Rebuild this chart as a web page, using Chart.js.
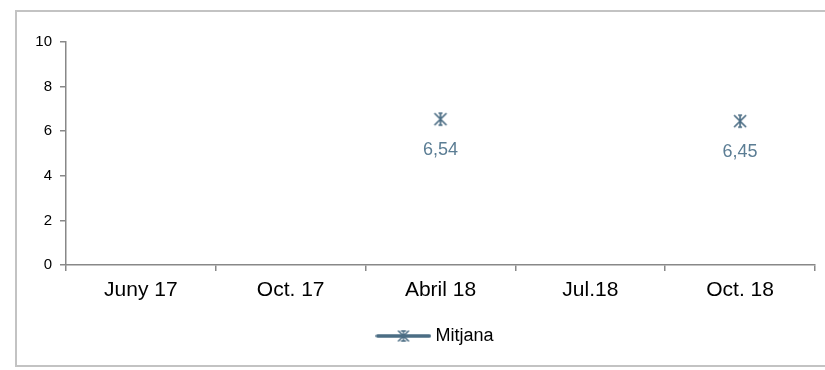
<!DOCTYPE html>
<html>
<head>
<meta charset="utf-8">
<script src="https://cdn.jsdelivr.net/npm/chart.js@4/dist/chart.umd.min.js"></script>
<style>
  html, body { margin: 0; padding: 0; background: #fff; }
  #wrap { position: relative; width: 825px; height: 370px; }
</style>
</head>
<body>
<div id="wrap"><canvas id="chart" width="825" height="370"></canvas></div>
<script>
// data
const categories = ['Juny 17', 'Oct. 17', 'Abril 18', 'Jul.18', 'Oct. 18'];
const mitjana = [null, null, 6.54, null, 6.45];
const yTicks = [0, 2, 4, 6, 8, 10];
const seriesName = 'Mitjana';

const SERIES_COLOR = '#4b6d84';
const LABEL_COLOR = '#5b7d94';
const FONT = '"Liberation Sans", Arial, sans-serif';

// excel-like star marker
function drawStar(ctx, cx, cy, r) {
    ctx.beginPath();
    ctx.moveTo(cx, cy - r); ctx.lineTo(cx, cy + r);
    ctx.moveTo(cx - r, cy - r); ctx.lineTo(cx + r, cy + r);
    ctx.moveTo(cx + r, cy - r); ctx.lineTo(cx - r, cy + r);
    ctx.moveTo(cx - 2, cy - r); ctx.lineTo(cx + 2, cy - r);
    ctx.moveTo(cx - 2, cy + r); ctx.lineTo(cx + 2, cy + r);
    ctx.stroke();
}

function starCanvas() {
    const c = document.createElement('canvas');
    c.width = 16; c.height = 16;
    const g = c.getContext('2d');
    g.strokeStyle = SERIES_COLOR; g.lineWidth = 1.7;
    drawStar(g, 8, 8, 6);
    return c;
}

function legendCanvas() {
    const c = document.createElement('canvas');
    c.width = 56; c.height = 14;
    const g = c.getContext('2d');
    g.strokeStyle = SERIES_COLOR; g.lineWidth = 3.5; g.lineCap = 'round';
    g.beginPath(); g.moveTo(2, 7); g.lineTo(54, 7); g.stroke();
    g.lineWidth = 1.5;
    drawStar(g, 28, 7, 5);
    return c;
}

const starImg = starCanvas();
const legendImg = legendCanvas();

const frame = {
    id: 'frame',
    beforeDraw(chart) {
        const ctx = chart.ctx;
        ctx.save();
        ctx.strokeStyle = '#c3c3c3';
        ctx.lineWidth = 2;
        ctx.strokeRect(16, 11, 830, 355);
        ctx.restore();
    }
};

// legend sits a bit right of the canvas centre, like the original
const legendShift = {
    id: 'legendShift',
    afterLayout(chart) {
        chart.legend.left += 28;
        chart.legend.right += 28;
    }
};

const valueLabels = {
    id: 'valueLabels',
    afterDatasetsDraw(chart) {
        const ctx = chart.ctx;
        ctx.save();
        ctx.font = '18px ' + FONT;
        ctx.fillStyle = LABEL_COLOR;
        ctx.textAlign = 'center';
        ctx.textBaseline = 'middle';
        chart.getDatasetMeta(0).data.forEach((pt, i) => {
            const v = mitjana[i];
            if (v === null) return;
            ctx.fillText(v.toFixed(2).replace('.', ','), pt.x, pt.y + 31);
        });
        ctx.restore();
    }
};

new Chart(document.getElementById('chart').getContext('2d'), {
    type: 'line',
    data: {
        labels: categories,
        datasets: [{
            label: seriesName,
            data: mitjana,
            borderColor: SERIES_COLOR,
            backgroundColor: SERIES_COLOR,
            borderWidth: 3,
            pointStyle: starImg,
            pointRadius: 7,
            spanGaps: false
        }]
    },
    options: {
        responsive: false,
        animation: false,
        events: [],
        layout: { padding: { left: 0, right: 7, top: 42, bottom: 15 } },
        plugins: {
            legend: {
                position: 'bottom',
                labels: {
                    usePointStyle: true,
                    pointStyleWidth: 46,
                    font: { size: 18, family: FONT },
                    color: '#000',
                    padding: 10,
                    generateLabels: (chart) => [{
                        text: seriesName,
                        pointStyle: legendImg,
                        fillStyle: SERIES_COLOR,
                        strokeStyle: SERIES_COLOR,
                        lineWidth: 0,
                        datasetIndex: 0
                    }]
                }
            },
            tooltip: { enabled: false }
        },
        scales: {
            x: {
                offset: true,
                grid: { offset: true, drawOnChartArea: false, tickLength: 6, color: '#888', lineWidth: 1.5 },
                border: { color: '#888', width: 1.5 },
                ticks: { color: '#000', font: { size: 21, family: FONT }, padding: 7, maxRotation: 0 },
                afterFit: (s) => { s.height = 52; }
            },
            y: {
                min: 0,
                max: 10,
                afterBuildTicks: (s) => { s.ticks = yTicks.map(v => ({ value: v })); },
                grid: { drawOnChartArea: false, tickLength: 6, color: '#888', lineWidth: 1.5 },
                border: { color: '#888', width: 1.5 },
                ticks: { color: '#000', font: { size: 15, family: FONT }, padding: 8 },
                afterFit: (s) => { s.width = 66; }
            }
        }
    },
    plugins: [frame, legendShift, valueLabels]
});
</script>
</body>
</html>
